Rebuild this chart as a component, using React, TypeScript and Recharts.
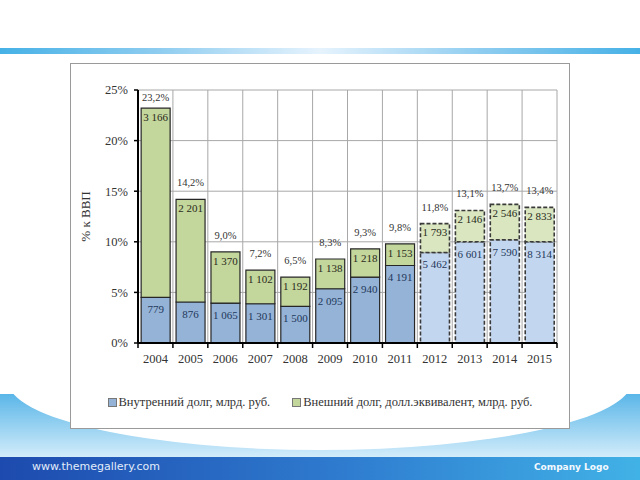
import React from "react";
import { BarChart, Bar, XAxis, YAxis, CartesianGrid, LabelList, Legend, Cell } from "recharts";

const years = ["2004", "2005", "2006", "2007", "2008", "2009", "2010", "2011", "2012", "2013", "2014", "2015"];
// domestic debt, % of GDP (height of the blue part)
const domesticPct = [4.5, 4.05, 3.95, 3.88, 3.62, 5.36, 6.51, 7.66, 8.95, 10.0, 10.2, 10.0];
// total debt, % of GDP
const totalPct = [23.2, 14.2, 9.0, 7.2, 6.5, 8.3, 9.3, 9.8, 11.8, 13.1, 13.7, 13.4];
// labels inside the segments, bn rub
const domesticBn = [779, 876, 1065, 1301, 1500, 2095, 2940, 4191, 5462, 6601, 7590, 8314];
const externalBn = [3166, 2201, 1370, 1102, 1192, 1138, 1218, 1153, 1793, 2146, 2546, 2833];
const isForecast = [false, false, false, false, false, false, false, false, true, true, true, true];
const yTicks = [0, 5, 10, 15, 20, 25];

const serif = "'Liberation Serif', 'DejaVu Serif', serif";

const W = 500;
const H = 366;
const M = { top: 27, right: 13, left: 12, bottom: 56 };
const Y_AXIS_W = 56;
const X_AXIS_H = 30;
const PLOT_W = W - M.left - M.right - Y_AXIS_W;
const PLOT_H = H - M.top - M.bottom - X_AXIS_H;
const AXIS_Y = M.top + PLOT_H;
const BAND = PLOT_W / years.length;

// non-breaking space so the label is not wrapped inside the bar
const fmtBn = (v: number) => String(v).replace(/\B(?=(\d{3})+(?!\d))/g, "\u00a0");
const fmtPct = (v: number) => v.toFixed(1).replace(".", ",") + "%";

const data = years.map((y, i) => ({
  year: y,
  dom: domesticPct[i],
  ext: +(totalPct[i] - domesticPct[i]).toFixed(2),
  domLbl: fmtBn(domesticBn[i]),
  extLbl: fmtBn(externalBn[i]),
  totLbl: fmtPct(totalPct[i]),
  fc: isForecast[i],
}));

function YearTick(props: any) {
  const { x, y, payload, index } = props;
  const bx = x - BAND / 2;
  return (
    <g>
      <line x1={bx} y1={AXIS_Y} x2={bx} y2={AXIS_Y + 5} stroke="#000" strokeWidth={1.5} />
      {index === years.length - 1 && (
        <line x1={x + BAND / 2} y1={AXIS_Y} x2={x + BAND / 2} y2={AXIS_Y + 5} stroke="#000" strokeWidth={1.5} />
      )}
      <text x={x} y={y} dy="0.71em" textAnchor="middle" fill="#333" fontSize={12.5} fontFamily={serif}>
        {payload.value}
      </text>
    </g>
  );
}

// total label above the stack, kept under the top gridline
function TotalLabel(props: any) {
  const { x, y, width, value } = props;
  const ty = Math.max(y - 13, M.top + 11);
  return (
    <text x={x + width / 2} y={ty} textAnchor="middle" fill="#333" fontSize={10.5} fontFamily={serif}>
      {value}
    </text>
  );
}

function LegendBox(props: any) {
  const items = [...(props.payload || [])].sort((a: any, b: any) => (a.dataKey === "dom" ? -1 : b.dataKey === "dom" ? 1 : 0));
  return (
    <div style={{ display: "flex", justifyContent: "center", gap: 22, fontFamily: serif, fontSize: 12.5, color: "#333" }}>
      {items.map((it: any) => (
        <div key={it.value} style={{ display: "flex", alignItems: "center" }}>
          <span style={{ display: "inline-block", width: 7, height: 7, background: it.color, border: "1px solid #777", marginRight: 2 }} />
          <span>{it.value}</span>
        </div>
      ))}
    </div>
  );
}

export default function App() {
  return (
    <div style={{ position: "absolute", left: 0, top: 0, width: 640, height: 480, overflow: "hidden", background: "#fff" }}>
      {/* top rule */}
      <div style={{ position: "absolute", left: 0, top: 48, width: 640, height: 6, background: "linear-gradient(to right, #46b1e6, #8fcdf0 25%, #e6f3fd 50%, #8fcdf0 75%, #46b1e6)" }} />
      {/* bottom swoosh */}
      <div style={{ position: "absolute", left: 0, top: 394, width: 640, height: 63, background: "linear-gradient(to bottom, #5ab6e8, #d2ecfa)" }} />
      <div style={{ position: "absolute", left: 8, top: 312, width: 624, height: 138, borderRadius: "50%", background: "#fff" }} />
      <div style={{ position: "absolute", left: 0, top: 457, width: 640, height: 23, background: "linear-gradient(to right, #1d4aae, #2f7dd0 55%, #41b2e6)" }} />
      <div style={{ position: "absolute", left: 32, top: 459, fontFamily: "'DejaVu Sans', sans-serif", fontSize: 11, color: "#e2ecfa", lineHeight: "16px" }}>
        www.themegallery.com
      </div>
      <div style={{ position: "absolute", left: 534, top: 459, fontFamily: "'DejaVu Sans', sans-serif", fontSize: 9, fontWeight: "bold", color: "#f4f9ff", lineHeight: "16px" }}>
        Company Logo
      </div>
      {/* chart frame */}
      <div style={{ position: "absolute", left: 70, top: 63, width: W, height: H, boxSizing: "border-box", border: "1px solid #9a9a9a", background: "#fff" }} />
      <div style={{ position: "absolute", left: 70, top: 63, width: W, height: H }}>
        <BarChart width={W} height={H} data={data} margin={M} barCategoryGap="9%">
          <CartesianGrid
            stroke="#a8a8a8"
            verticalCoordinatesGenerator={(p: any) => {
              const left = p?.offset?.left ?? M.left + Y_AXIS_W;
              const w = p?.offset?.width ?? PLOT_W;
              return years.map((_, i) => left + (i * w) / years.length).concat(left + w);
            }}
          />
          <XAxis
            dataKey="year"
            height={X_AXIS_H}
            axisLine={{ stroke: "#000", strokeWidth: 2 }}
            tickLine={false}
            tickSize={5}
            tickMargin={6}
            interval={0}
            tick={<YearTick />}
          />
          <YAxis
            width={Y_AXIS_W}
            domain={[0, 25]}
            ticks={yTicks}
            tickFormatter={(v) => `${v}%`}
            axisLine={{ stroke: "#000", strokeWidth: 2 }}
            tickLine={{ stroke: "#000", strokeWidth: 1.5 }}
            tickSize={4}
            tickMargin={6}
            tick={{ fill: "#333", fontSize: 12.5, fontFamily: serif }}
            label={{ value: "% к ВВП", angle: -90, position: "center", dx: -25, fill: "#333", fontSize: 13, fontFamily: serif }}
          />
          <Legend
            layout="horizontal"
            verticalAlign="middle"
            align="center"
            wrapperStyle={{ top: 332, left: 0, width: W }}
            content={<LegendBox />}
          />
          <Bar dataKey="dom" stackId="s" name="Внутренний долг, млрд. руб." fill="#95b3d7" isAnimationActive={false}>
            {data.map((d, i) => (
              <Cell
                key={i}
                fill={d.fc ? "#c3d6ef" : "#95b3d7"}
                stroke={d.fc ? "#3a3a3a" : "#262626"}
                strokeWidth={d.fc ? 1.6 : 1.2}
                strokeDasharray={d.fc ? "4 2" : undefined}
              />
            ))}
            <LabelList dataKey="domLbl" position="insideTop" offset={8} fill="#22385a" fontSize={11} fontFamily={serif} />
          </Bar>
          <Bar dataKey="ext" stackId="s" name="Внешний долг, долл.эквивалент, млрд. руб." fill="#c3d69b" isAnimationActive={false}>
            {data.map((d, i) => (
              <Cell
                key={i}
                fill={d.fc ? "#d9e6bf" : "#c3d69b"}
                stroke={d.fc ? "#3a3a3a" : "#262626"}
                strokeWidth={d.fc ? 1.6 : 1.2}
                strokeDasharray={d.fc ? "4 2" : undefined}
              />
            ))}
            <LabelList dataKey="extLbl" position="insideTop" offset={5} fill="#2a2a1c" fontSize={11} fontFamily={serif} />
            <LabelList dataKey="totLbl" content={<TotalLabel />} />
          </Bar>
        </BarChart>
      </div>
    </div>
  );
}
